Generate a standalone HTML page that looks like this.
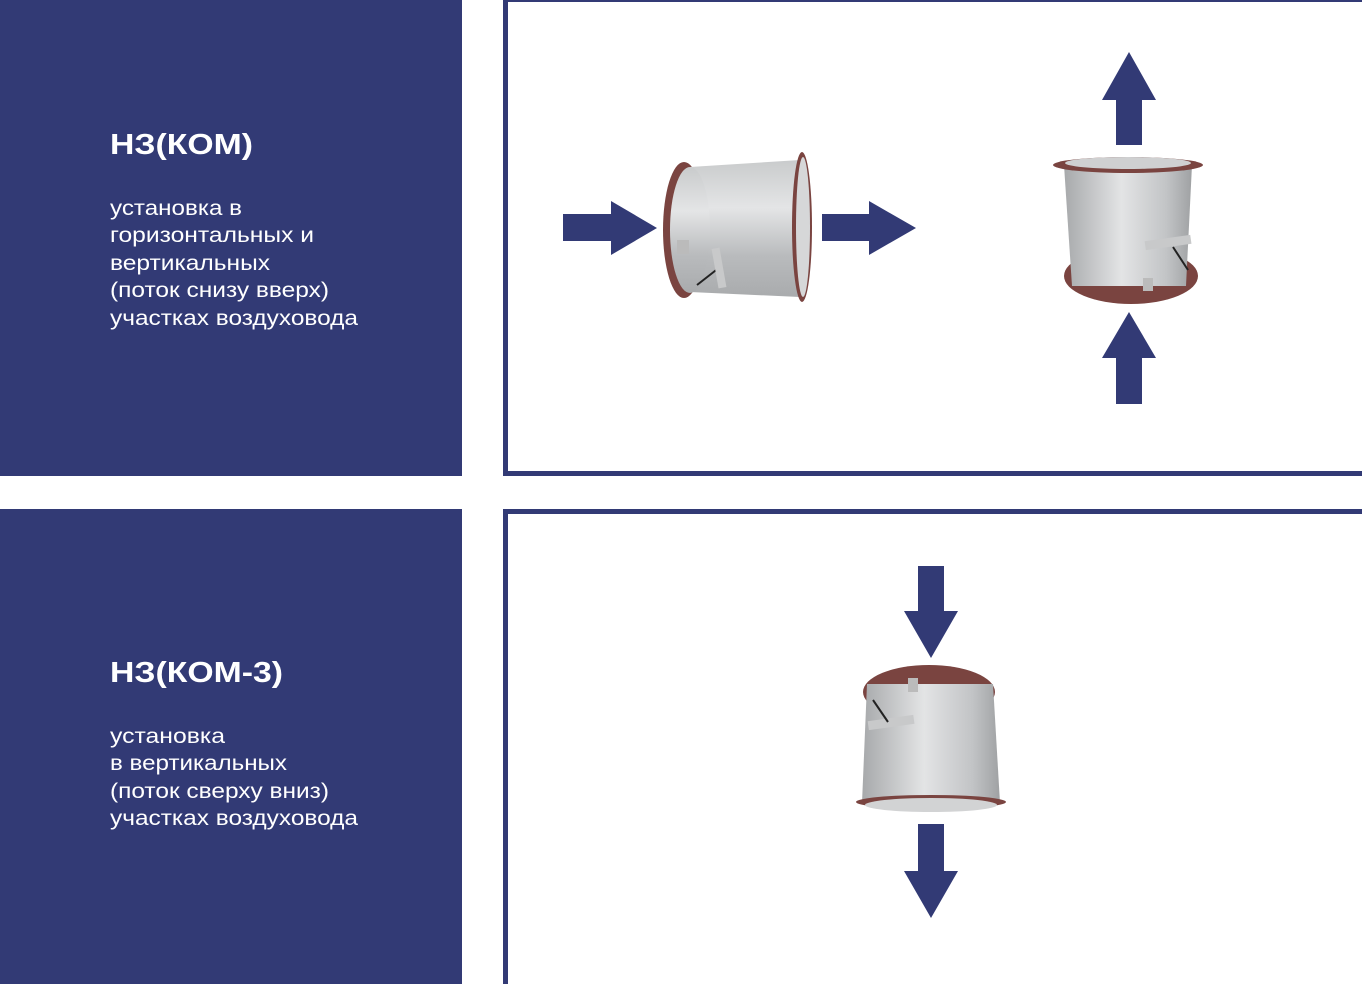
<!DOCTYPE html>
<html><head><meta charset="utf-8"><style>
html,body{margin:0;padding:0;background:#fff;}
svg{display:block;}
text{font-family:"Liberation Sans",sans-serif;fill:#fff;}
</style></head><body>
<svg width="1362" height="984" viewBox="0 0 1362 984" xmlns="http://www.w3.org/2000/svg">
<defs>
<linearGradient id="gh" x1="0" y1="0" x2="0" y2="1">
<stop offset="0" stop-color="#c9cbcc"/><stop offset="0.35" stop-color="#e4e5e6"/><stop offset="0.7" stop-color="#b9bbbd"/><stop offset="1" stop-color="#a9abad"/></linearGradient>
<linearGradient id="gv" x1="0" y1="0" x2="1" y2="0">
<stop offset="0" stop-color="#a7a9ab"/><stop offset="0.45" stop-color="#e3e4e5"/><stop offset="0.8" stop-color="#c2c4c6"/><stop offset="1" stop-color="#9fa1a3"/></linearGradient>
</defs>
<rect x="0" y="0" width="462" height="476" fill="#323a75"/>
<rect x="0" y="509" width="462" height="475" fill="#323a75"/>
<!-- box borders -->
<rect x="503" y="0" width="5" height="476" fill="#323a75"/>
<rect x="503" y="0" width="859" height="2" fill="#323a75"/>
<rect x="503" y="471" width="859" height="5" fill="#323a75"/>
<rect x="503" y="509" width="859" height="5" fill="#323a75"/>
<rect x="503" y="509" width="5" height="475" fill="#323a75"/>

<text x="110" y="154" font-size="29" font-weight="bold" textLength="143" lengthAdjust="spacingAndGlyphs">НЗ(КОМ)</text>
<g font-size="21">
<text x="110" y="215" textLength="132" lengthAdjust="spacingAndGlyphs">установка в</text>
<text x="110" y="242" textLength="204" lengthAdjust="spacingAndGlyphs">горизонтальных и</text>
<text x="110" y="270" textLength="160" lengthAdjust="spacingAndGlyphs">вертикальных</text>
<text x="110" y="297" textLength="219" lengthAdjust="spacingAndGlyphs">(поток снизу вверх)</text>
<text x="110" y="325" textLength="248" lengthAdjust="spacingAndGlyphs">участках воздуховода</text>
</g>
<text x="110" y="682" font-size="29" font-weight="bold" textLength="173" lengthAdjust="spacingAndGlyphs">НЗ(КОМ-3)</text>
<g font-size="21">
<text x="110" y="743" textLength="115" lengthAdjust="spacingAndGlyphs">установка</text>
<text x="110" y="770" textLength="177" lengthAdjust="spacingAndGlyphs">в вертикальных</text>
<text x="110" y="798" textLength="219" lengthAdjust="spacingAndGlyphs">(поток сверху вниз)</text>
<text x="110" y="825" textLength="248" lengthAdjust="spacingAndGlyphs">участках воздуховода</text>
</g>

<g fill="#323a75">
<polygon points="563,214 611,214 611,201 657,228 611,255 611,241 563,241"/>
<polygon points="822,214 869,214 869,201 916,228 869,255 869,241 822,241"/>
<polygon points="1116,145 1116,100 1102,100 1129,52 1156,100 1142,100 1142,145"/>
<polygon points="1116,404 1116,358 1102,358 1129,312 1156,358 1142,358 1142,404"/>
<polygon points="918,566 944,566 944,611 958,611 931,658 904,611 918,611"/>
<polygon points="918,824 944,824 944,871 958,871 931,918 904,871 918,871"/>
</g>

<!-- horizontal damper -->
<ellipse cx="684" cy="230" rx="21" ry="68" fill="#7a4440"/>
<polygon points="690,167 800,160 800,297 690,292" fill="url(#gh)"/>
<ellipse cx="690" cy="230" rx="20" ry="63" fill="url(#gh)"/>
<ellipse cx="802" cy="227" rx="10" ry="75" fill="#7a4440"/>
<ellipse cx="803" cy="227" rx="7" ry="70" fill="#d6d7d8"/>
<line x1="697" y1="285" x2="720" y2="267" stroke="#222" stroke-width="2"/>
<rect x="715" y="248" width="8" height="40" fill="#c8c9ca" transform="rotate(-10 719 268)"/>
<rect x="677" y="240" width="12" height="14" fill="#bbb"/>

<!-- vertical damper 1 -->
<ellipse cx="1131" cy="276" rx="67" ry="28" fill="#7a4440"/>
<polygon points="1064,165 1192,165 1186,286 1072,286" fill="url(#gv)"/>
<ellipse cx="1128" cy="165" rx="75" ry="8" fill="#7a4440"/>
<ellipse cx="1128" cy="163" rx="63" ry="6" fill="#cfd0d1"/>
<rect x="1145" y="238" width="46" height="9" fill="#c8c9ca" transform="rotate(-8 1168 242)"/>
<line x1="1173" y1="247" x2="1188" y2="270" stroke="#222" stroke-width="2"/>
<rect x="1143" y="278" width="10" height="13" fill="#bbb"/>

<!-- vertical damper 2 -->
<ellipse cx="929" cy="692" rx="66" ry="27" fill="#7a4440"/>
<polygon points="867,684 993,684 1000,803 862,803" fill="url(#gv)"/>
<ellipse cx="931" cy="802" rx="75" ry="7" fill="#7a4440"/>
<ellipse cx="931" cy="805" rx="66" ry="7" fill="#d2d3d4"/>
<rect x="868" y="718" width="46" height="9" fill="#c8c9ca" transform="rotate(-8 891 722)"/>
<line x1="873" y1="700" x2="888" y2="722" stroke="#222" stroke-width="2"/>
<rect x="908" y="678" width="10" height="14" fill="#bbb"/>
</svg>
</body></html>
